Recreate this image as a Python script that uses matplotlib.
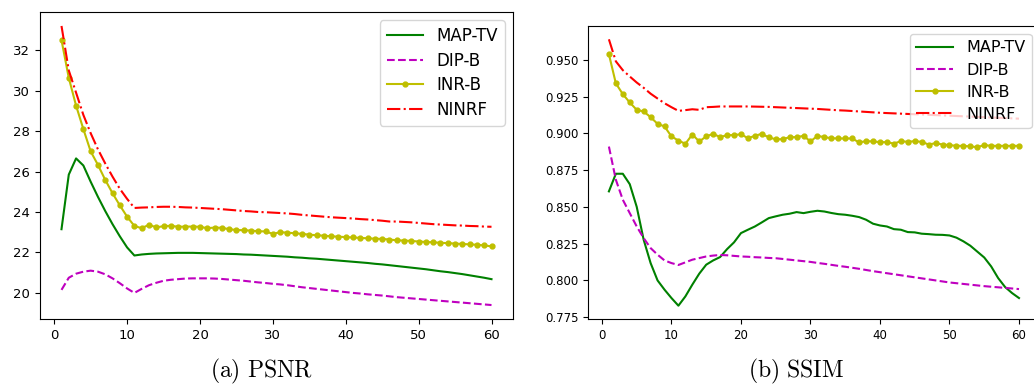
import matplotlib
matplotlib.use("Agg")
import matplotlib.pyplot as plt
import numpy as np

iters = list(range(1, 61))

psnr_map_tv = [23.15, 25.85, 26.65, 26.3, 25.5, 24.75, 24.05, 23.4, 22.8, 22.25,
               21.85, 21.9, 21.93, 21.95, 21.96, 21.97, 21.98, 21.98, 21.98, 21.97,
               21.96, 21.95, 21.94, 21.93, 21.92, 21.9, 21.89, 21.87, 21.85, 21.83,
               21.81, 21.79, 21.76, 21.74, 21.71, 21.69, 21.66, 21.63, 21.6, 21.57,
               21.54, 21.51, 21.48, 21.44, 21.41, 21.37, 21.33, 21.29, 21.25, 21.21,
               21.17, 21.12, 21.07, 21.03, 20.98, 20.93, 20.87, 20.81, 20.75, 20.68]
psnr_dip_b = [20.15, 20.75, 20.95, 21.05, 21.1, 21.05, 20.92, 20.72, 20.48, 20.22,
              20.0, 20.2, 20.38, 20.5, 20.6, 20.65, 20.68, 20.71, 20.72, 20.72,
              20.72, 20.71, 20.69, 20.66, 20.63, 20.6, 20.56, 20.52, 20.49, 20.45,
              20.42, 20.38, 20.33, 20.28, 20.24, 20.2, 20.16, 20.12, 20.08, 20.04,
              20.0, 19.97, 19.93, 19.9, 19.87, 19.83, 19.79, 19.76, 19.73, 19.7,
              19.67, 19.64, 19.61, 19.58, 19.55, 19.52, 19.49, 19.46, 19.43, 19.4]
psnr_inr_b = [32.5, 30.63, 29.26, 28.1, 27.0, 26.33, 25.59, 24.93, 24.33, 23.77,
              23.31, 23.2, 23.37, 23.24, 23.3, 23.32, 23.27, 23.28, 23.28, 23.27,
              23.2, 23.23, 23.22, 23.15, 23.11, 23.1, 23.08, 23.05, 23.04, 22.92,
              23.0, 22.98, 22.95, 22.92, 22.88, 22.85, 22.83, 22.8, 22.78, 22.76,
              22.74, 22.72, 22.7, 22.68, 22.67, 22.64, 22.6, 22.59, 22.57, 22.54,
              22.52, 22.5, 22.48, 22.46, 22.44, 22.42, 22.4, 22.38, 22.35, 22.3]
psnr_ninrf = [33.2, 31.0, 29.9, 28.8, 27.9, 27.1, 26.4, 25.75, 25.15, 24.65,
              24.2, 24.22, 24.23, 24.25, 24.26, 24.26, 24.25, 24.23, 24.22, 24.2,
              24.18, 24.16, 24.14, 24.11, 24.08, 24.05, 24.03, 24.0, 23.99, 23.97,
              23.95, 23.93, 23.9, 23.86, 23.83, 23.8, 23.77, 23.74, 23.72, 23.7,
              23.68, 23.65, 23.63, 23.6, 23.57, 23.53, 23.53, 23.51, 23.49, 23.46,
              23.43, 23.4, 23.38, 23.36, 23.34, 23.33, 23.31, 23.3, 23.28, 23.27]

ssim_map_tv = [0.8605, 0.8725, 0.8725, 0.8654, 0.850, 0.8276, 0.8117, 0.7999, 0.7936, 0.7879,
               0.7827, 0.789, 0.797, 0.8045, 0.8106, 0.8135, 0.8158, 0.8212, 0.8258, 0.8321,
               0.8344, 0.8366, 0.8394, 0.8423, 0.8435, 0.8446, 0.8453, 0.8464, 0.8457, 0.8466,
               0.8473, 0.8468, 0.8458, 0.845, 0.8446, 0.8439, 0.843, 0.8412, 0.8385, 0.8373,
               0.8366, 0.8348, 0.8344, 0.8328, 0.8326, 0.8317, 0.8314, 0.831, 0.8309, 0.8305,
               0.829, 0.8265, 0.8235, 0.8195, 0.8155, 0.8094, 0.8015, 0.7954, 0.7913, 0.7879]
ssim_dip_b = [0.891, 0.8684, 0.8548, 0.8457, 0.8366, 0.8287, 0.8219, 0.8174, 0.8135, 0.8117,
              0.8104, 0.8122, 0.814, 0.8151, 0.8162, 0.8168, 0.8172, 0.817, 0.8166, 0.8162,
              0.816, 0.8157, 0.8155, 0.8152, 0.815, 0.8145, 0.814, 0.8135, 0.813, 0.8125,
              0.8118, 0.8112, 0.8105, 0.8098, 0.8092, 0.8085, 0.8078, 0.807, 0.8062, 0.8055,
              0.8048, 0.8041, 0.8034, 0.8027, 0.802, 0.8013, 0.8006, 0.7999, 0.7992, 0.7985,
              0.798, 0.7975, 0.797, 0.7965, 0.796, 0.7956, 0.7952, 0.7948, 0.7944, 0.794]
ssim_inr_b = [0.9539, 0.934, 0.9267, 0.921, 0.916, 0.9149, 0.911, 0.9065, 0.9047, 0.8979,
              0.8951, 0.8929, 0.8992, 0.8945, 0.8979, 0.8997, 0.8974, 0.8988, 0.8988, 0.8994,
              0.8967, 0.8983, 0.8997, 0.8972, 0.896, 0.896, 0.8974, 0.8974, 0.8983, 0.8945,
              0.8983, 0.8974, 0.8967, 0.8965, 0.8965, 0.8965, 0.8938, 0.8947, 0.8945, 0.894,
              0.894, 0.893, 0.8947, 0.8942, 0.8947, 0.8942, 0.8924, 0.8933, 0.8924, 0.892,
              0.8915, 0.8915, 0.8911, 0.8906, 0.892, 0.8915, 0.8915, 0.8915, 0.8915, 0.8915]
ssim_ninrf = [0.964, 0.949, 0.943, 0.9387, 0.9346, 0.931, 0.927, 0.9237, 0.9205, 0.9178,
              0.9153, 0.9158, 0.9164, 0.916, 0.9178, 0.918, 0.9183, 0.9183, 0.9183, 0.9183,
              0.9183, 0.9182, 0.9181, 0.918, 0.9178, 0.9176, 0.9174, 0.9172, 0.917, 0.9168,
              0.9166, 0.9163, 0.916, 0.9157, 0.9155, 0.9152, 0.9149, 0.9146, 0.9143, 0.914,
              0.9138, 0.9136, 0.9134, 0.9132, 0.913, 0.9128, 0.9126, 0.9124, 0.9122, 0.912,
              0.9118, 0.9116, 0.9114, 0.9112, 0.911, 0.9108, 0.9106, 0.9104, 0.9102, 0.910]

labels = ["MAP-TV", "DIP-B", "INR-B", "NINRF"]
captions = ["(a)\\ PSNR", "(b)\\ SSIM"]
psnr_yticks = [20, 22, 24, 26, 28, 30, 32]
ssim_yticks = [0.775, 0.800, 0.825, 0.850, 0.875, 0.900, 0.925, 0.950]
xticks = [0, 10, 20, 30, 40, 50, 60]

plt.rcParams["mathtext.fontset"] = "cm"

fig = plt.figure(figsize=(10.34, 3.85), dpi=100)
W, H = 1034.0, 385.0
ax1 = fig.add_axes([40 / W, 66 / H, (513 - 40) / W, (319 - 12) / H])
ax2 = fig.add_axes([588.4 / W, 66 / H, (1039.5 - 588.4) / W, (319 - 26) / H])


def draw(ax, series, tick_fs, leg_fs, spacing, hlen):
    a, b, c, d = series
    ax.plot(iters, a, "g-", lw=1.5, label=labels[0])
    ax.plot(iters, b, "m--", lw=1.5, label=labels[1])
    ax.plot(iters, c, "y.-", lw=1.5, ms=7, label=labels[2])
    ax.plot(iters, d, "r-.", lw=1.5, label=labels[3])
    ax.set_xticks(xticks)
    ax.tick_params(labelsize=tick_fs)
    ax.legend(loc="upper right", fontsize=leg_fs, labelspacing=spacing,
              handlelength=hlen)


draw(ax1, [psnr_map_tv, psnr_dip_b, psnr_inr_b, psnr_ninrf], 9.5, 12, 0.4, 2.2)
ax1.set_yticks(psnr_yticks)
draw(ax2, [ssim_map_tv, ssim_dip_b, ssim_inr_b, ssim_ninrf], 8.5, 11.5, 0.45, 2.3)
ax2.set_yticks(ssim_yticks)
ax2.set_yticklabels(["%.3f" % v for v in ssim_yticks])

fig.text(262 / W, 1 - 371 / H, "$\\mathrm{" + captions[0] + "}$", ha="center", va="center", fontsize=17)
fig.text(796 / W, 1 - 371 / H, "$\\mathrm{" + captions[1] + "}$", ha="center", va="center", fontsize=17)

fig.savefig("out.png", dpi=100)
